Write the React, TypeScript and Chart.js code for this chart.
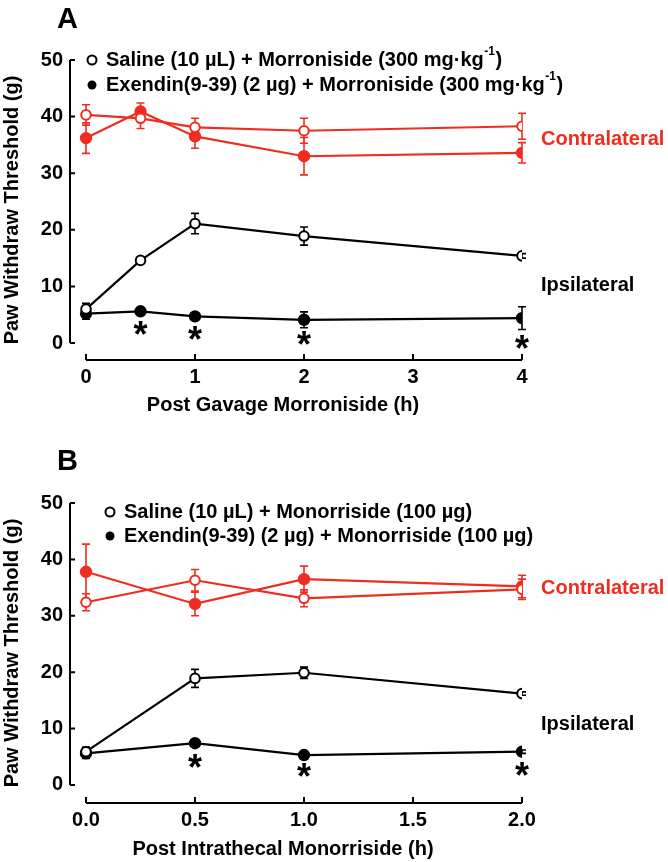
import React, { useEffect, useRef } from "react";
import { Chart, registerables } from "chart.js";

Chart.register(...registerables);

const RED = "#ef2d1f";
const BLACK = "#000000";
const FONT = "'Liberation Sans', Arial, sans-serif";

// ---------- Panel A data ----------
const timesA = [0, 0.5, 1, 2, 4];
const xTicksA = [0, 1, 2, 3, 4];
const xTickLabelsA = ["0", "1", "2", "3", "4"];
const contraSalineA = [40.3, 39.7, 38.1, 37.5, 38.3];
const contraSalineErrA = [1.8, 1.8, 1.6, 2.2, 2.3];
const contraExendinA = [36.2, 40.9, 36.5, 33.0, 33.6];
const contraExendinErrA = [2.7, 1.5, 2.1, 3.3, 1.8];
const ipsiSalineA = [6.0, 14.6, 21.1, 18.9, 15.4];
const ipsiSalineErrA = [1.0, 0.3, 1.8, 1.6, 0.4];
const ipsiExendinA = [5.2, 5.6, 4.7, 4.1, 4.4];
const ipsiExendinErrA = [1.0, 0.3, 0.3, 1.4, 2.0];
const starXA = [0.5, 1, 2, 4];
const starYA = [2.6, 1.8, 0.8, 0.1];
const legendSalineA = ["Saline (10 \u00b5L) + Morroniside (300 mg\u00b7kg", "-1", ")"];
const legendExendinA = ["Exendin(9-39) (2 \u00b5g) + Morroniside (300 mg\u00b7kg", "-1", ")"];
const xTitleA = "Post Gavage Morroniside (h)";
const sideLabelYA = [35.9, 10.2];

// ---------- Panel B data ----------
const timesB = [0, 0.5, 1, 2];
const xTicksB = [0, 0.5, 1, 1.5, 2];
const xTickLabelsB = ["0.0", "0.5", "1.0", "1.5", "2.0"];
const contraSalineB = [32.4, 36.3, 33.1, 34.7];
const contraSalineErrB = [1.5, 1.9, 1.5, 1.8];
const contraExendinB = [37.8, 32.1, 36.5, 35.2];
const contraExendinErrB = [4.9, 2.1, 2.3, 2.0];
const ipsiSalineB = [5.9, 18.9, 19.9, 16.2];
const ipsiSalineErrB = [0.8, 1.6, 1.0, 0.3];
const ipsiExendinB = [5.6, 7.4, 5.3, 5.9];
const ipsiExendinErrB = [0.9, 0.3, 0.3, 0.3];
const starXB = [0.5, 1, 2];
const starYB = [4.3, 2.7, 2.8];
const legendSalineB = ["Saline (10 \u00b5L) + Monorriside (100 \u00b5g)", "", ""];
const legendExendinB = ["Exendin(9-39) (2 \u00b5g) + Monorriside (100 \u00b5g)", "", ""];
const xTitleB = "Post Intrathecal Monorriside (h)";
const sideLabelYB = [34.9, 10.8];

// shared
const yTicks = [0, 10, 20, 30, 40, 50];
const yTickLabels = ["0", "10", "20", "30", "40", "50"];
const sideLabels = ["Contralateral", "Ipsilateral"];
const yTitle = "Paw Withdraw Threshold (g)";

type Panel = {
  letter: string;
  times: number[];
  series: { values: number[]; errs: number[]; color: string; open: boolean }[];
  xTicks: number[];
  xTickLabels: string[];
  xMin: number;
  xMax: number;
  yMin: number;
  stars: { x: number[]; y: number[] };
  legend: string[][];
  xTitle: string;
  sideLabelY: number[];
  layout: {
    top: number;
    xScaleHeight: number;
    legendX: number;
    legendY: number[];
    letterBaseline: number;
    xTitleY: number;
  };
};

const panelA: Panel = {
  letter: "A",
  times: timesA,
  series: [
    { values: contraSalineA, errs: contraSalineErrA, color: RED, open: true },
    { values: contraExendinA, errs: contraExendinErrA, color: RED, open: false },
    { values: ipsiSalineA, errs: ipsiSalineErrA, color: BLACK, open: true },
    { values: ipsiExendinA, errs: ipsiExendinErrA, color: BLACK, open: false },
  ],
  xTicks: xTicksA,
  xTickLabels: xTickLabelsA,
  xMin: -0.147,
  xMax: 4,
  yMin: -3.0,
  stars: { x: starXA, y: starYA },
  legend: [legendSalineA, legendExendinA],
  xTitle: xTitleA,
  sideLabelY: sideLabelYA,
  layout: { top: 60, xScaleHeight: 71, legendX: 92, legendY: [60, 85], letterBaseline: 28, xTitleY: 405 },
};

const panelB: Panel = {
  letter: "B",
  times: timesB,
  series: [
    { values: contraSalineB, errs: contraSalineErrB, color: RED, open: true },
    { values: contraExendinB, errs: contraExendinErrB, color: RED, open: false },
    { values: ipsiSalineB, errs: ipsiSalineErrB, color: BLACK, open: true },
    { values: ipsiExendinB, errs: ipsiExendinErrB, color: BLACK, open: false },
  ],
  xTicks: xTicksB,
  xTickLabels: xTickLabelsB,
  xMin: -0.0734,
  xMax: 2,
  yMin: -3.2,
  stars: { x: starXB, y: starYB },
  legend: [legendSalineB, legendExendinB],
  xTitle: xTitleB,
  sideLabelY: sideLabelYB,
  layout: { top: 72, xScaleHeight: 59, legendX: 110, legendY: [81, 105], letterBaseline: 39, xTitleY: 418 },
};

const W = 668;
const H = 431;

function makePlugin(panel: Panel) {
  return {
    id: "panelDecor",
    beforeDatasetsDraw(chart: any) {
      const ctx = chart.ctx;
      const xs = chart.scales.x;
      const ys = chart.scales.y;
      ctx.save();
      chart.data.datasets.forEach((ds: any) => {
        ctx.strokeStyle = ds.borderColor;
        ctx.lineWidth = 1.6;
        ds.data.forEach((p: any, i: number) => {
          const e = ds.errs[i];
          const px = xs.getPixelForValue(p.x);
          const t = ys.getPixelForValue(p.y + e);
          const b = ys.getPixelForValue(p.y - e);
          ctx.beginPath();
          ctx.moveTo(px, t);
          ctx.lineTo(px, b);
          ctx.moveTo(px - 4, t);
          ctx.lineTo(px + 4, t);
          ctx.moveTo(px - 4, b);
          ctx.lineTo(px + 4, b);
          ctx.stroke();
        });
      });
      ctx.restore();
    },
    afterDraw(chart: any) {
      const ctx = chart.ctx;
      const xs = chart.scales.x;
      const ys = chart.scales.y;
      const area = chart.chartArea;
      ctx.save();
      // axes
      ctx.strokeStyle = BLACK;
      ctx.lineWidth = 2;
      const y0 = ys.getPixelForValue(yTicks[0]);
      const y1 = ys.getPixelForValue(yTicks[yTicks.length - 1]);
      ctx.beginPath();
      ctx.moveTo(area.left, y0);
      ctx.lineTo(area.left, y1);
      yTicks.forEach((v) => {
        const py = ys.getPixelForValue(v);
        ctx.moveTo(area.left, py);
        ctx.lineTo(area.left + 5, py);
      });
      const x0 = xs.getPixelForValue(panel.xTicks[0]);
      const x1 = xs.getPixelForValue(panel.xTicks[panel.xTicks.length - 1]);
      ctx.moveTo(x0, area.bottom);
      ctx.lineTo(x1, area.bottom);
      panel.xTicks.forEach((v) => {
        const px = xs.getPixelForValue(v);
        ctx.moveTo(px, area.bottom);
        ctx.lineTo(px, area.bottom - 6);
      });
      ctx.stroke();

      // asterisks
      ctx.fillStyle = BLACK;
      ctx.font = `bold 36px ${FONT}`;
      ctx.textAlign = "center";
      ctx.textBaseline = "alphabetic";
      const m = ctx.measureText("*");
      const off = (m.actualBoundingBoxAscent - m.actualBoundingBoxDescent) / 2;
      panel.stars.x.forEach((sx, i) => {
        ctx.fillText("*", xs.getPixelForValue(sx), ys.getPixelForValue(panel.stars.y[i]) + off);
      });

      // side labels
      ctx.font = `bold 20px ${FONT}`;
      ctx.textAlign = "left";
      ctx.textBaseline = "middle";
      sideLabels.forEach((txt, i) => {
        ctx.fillStyle = i === 0 ? RED : BLACK;
        ctx.fillText(txt, area.right + 19, ys.getPixelForValue(panel.sideLabelY[i]));
      });

      // legend
      panel.legend.forEach((parts, i) => {
        const ly = panel.layout.legendY[i];
        const lx = panel.layout.legendX;
        ctx.beginPath();
        ctx.arc(lx, ly, 4.5, 0, Math.PI * 2);
        if (i === 0) {
          ctx.fillStyle = "#fff";
          ctx.fill();
          ctx.lineWidth = 2;
          ctx.strokeStyle = BLACK;
          ctx.stroke();
        } else {
          ctx.fillStyle = BLACK;
          ctx.fill();
        }
        ctx.fillStyle = BLACK;
        ctx.textAlign = "left";
        ctx.textBaseline = "middle";
        let cx = lx + 14;
        ctx.font = `bold 20px ${FONT}`;
        ctx.fillText(parts[0], cx, ly);
        cx += ctx.measureText(parts[0]).width;
        if (parts[1]) {
          ctx.font = `bold 12px ${FONT}`;
          ctx.fillText(parts[1], cx + 0.5, ly - 8);
          cx += ctx.measureText(parts[1]).width + 1;
        }
        if (parts[2]) {
          ctx.font = `bold 20px ${FONT}`;
          ctx.fillText(parts[2], cx, ly);
        }
      });

      // panel letter
      ctx.font = `bold 29px ${FONT}`;
      ctx.textAlign = "left";
      ctx.textBaseline = "alphabetic";
      ctx.fillText(panel.letter, 57, panel.layout.letterBaseline);

      // x axis title
      ctx.font = `bold 20px ${FONT}`;
      ctx.textAlign = "center";
      ctx.textBaseline = "middle";
      ctx.fillText(panel.xTitle, 283, panel.layout.xTitleY);
      ctx.restore();
    },
  };
}

function buildConfig(panel: Panel): any {
  const datasets = panel.series.map((s) => ({
    data: panel.times.map((t, i) => ({ x: t, y: s.values[i] })),
    errs: s.errs,
    borderColor: s.color,
    backgroundColor: s.open ? "#ffffff" : s.color,
    pointBackgroundColor: s.open ? "#ffffff" : s.color,
    pointBorderColor: s.color,
    pointBorderWidth: 2,
    pointRadius: s.open ? 4.8 : 5.2,
    borderWidth: 2.2,
    showLine: true,
    tension: 0,
  }));
  return {
    type: "scatter",
    data: { datasets },
    options: {
      responsive: false,
      animation: false,
      layout: { padding: { top: panel.layout.top, right: W - 522, left: 0, bottom: 0 } },
      plugins: { legend: { display: false }, tooltip: { enabled: false } },
      scales: {
        x: {
          type: "linear",
          min: panel.xMin,
          max: panel.xMax,
          afterBuildTicks: (s: any) => {
            s.ticks = panel.xTicks.map((v) => ({ value: v }));
          },
          afterFit: (s: any) => {
            s.height = panel.layout.xScaleHeight;
          },
          ticks: {
            callback: (_v: any, i: number) => panel.xTickLabels[i],
            font: { family: FONT, size: 20, weight: "bold" },
            color: BLACK,
            padding: 5,
            maxRotation: 0,
            autoSkip: false,
          },
          grid: { display: false, drawTicks: false },
          border: { display: false },
        },
        y: {
          type: "linear",
          min: panel.yMin,
          max: 50,
          afterBuildTicks: (s: any) => {
            s.ticks = yTicks.map((v) => ({ value: v }));
          },
          afterFit: (s: any) => {
            s.width = 70;
          },
          ticks: {
            callback: (_v: any, i: number) => yTickLabels[i],
            font: { family: FONT, size: 20, weight: "bold" },
            color: BLACK,
            padding: 7,
            autoSkip: false,
          },
          grid: { display: false, drawTicks: false },
          border: { display: false },
          title: {
            display: true,
            text: yTitle,
            font: { family: FONT, size: 20, weight: "bold" },
            color: BLACK,
            padding: { top: 0, bottom: 0 },
          },
        },
      },
    },
    plugins: [makePlugin(panel)],
  };
}

function PanelChart({ panel, top }: { panel: Panel; top: number }) {
  const ref = useRef<HTMLCanvasElement | null>(null);
  useEffect(() => {
    if (!ref.current) return;
    const chart = new Chart(ref.current, buildConfig(panel));
    return () => chart.destroy();
  }, [panel]);
  return (
    <canvas
      ref={ref}
      width={W}
      height={H}
      style={{ position: "absolute", left: 0, top, width: W, height: H, display: "block" }}
    />
  );
}

export default function App() {
  return (
    <div style={{ position: "absolute", left: 0, top: 0, width: W, height: 2 * H, background: "#fff" }}>
      <PanelChart panel={panelA} top={0} />
      <PanelChart panel={panelB} top={H} />
    </div>
  );
}
